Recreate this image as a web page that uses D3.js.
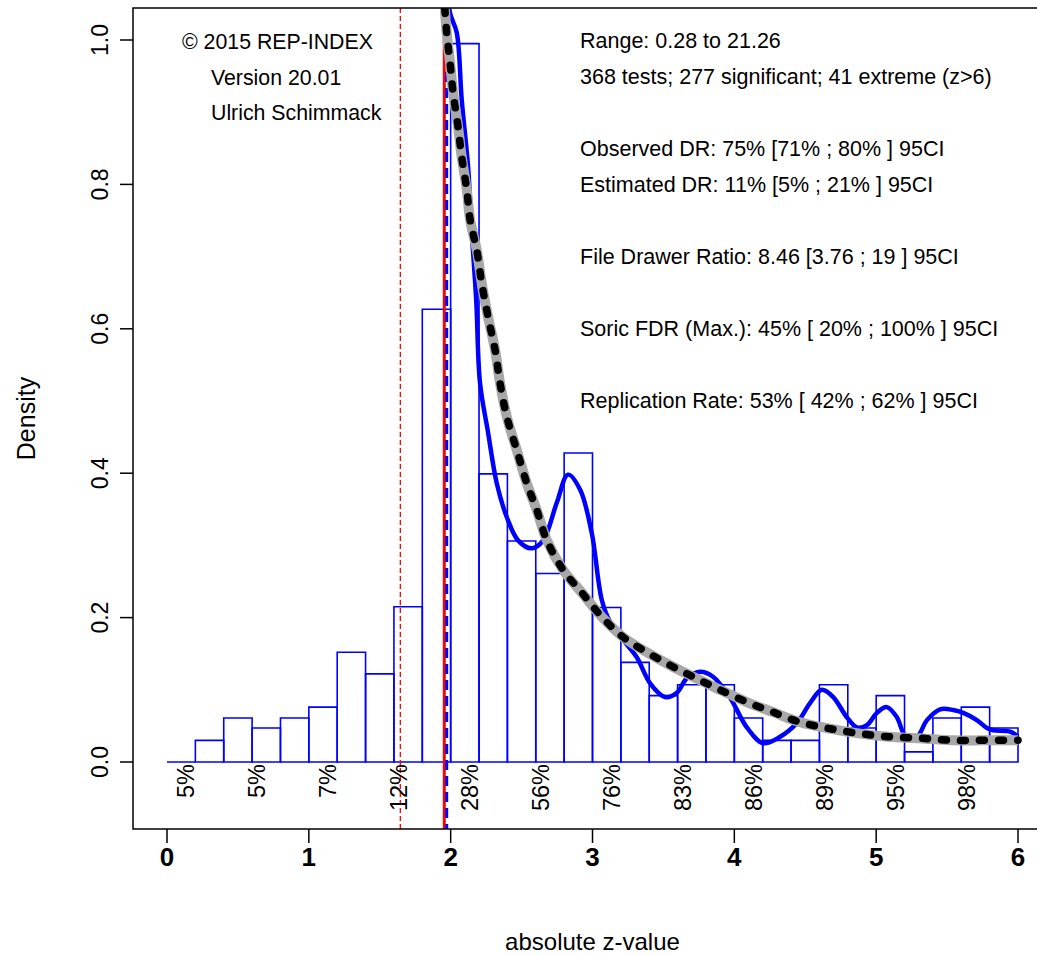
<!DOCTYPE html>
<html>
<head>
<meta charset="utf-8">
<script src="https://cdn.jsdelivr.net/npm/d3@7"></script>
<style>
  body { margin: 0; background: #fff; }
  svg { font-family: Arial, "Liberation Sans", sans-serif; }
</style>
</head>
<body>
<div id="chart"></div>
<script>
// Histogram (density scale, bin width 0.2)
const histBreaks = [0, 0.2, 0.4, 0.6, 0.8, 1.0, 1.2, 1.4, 1.6, 1.8, 2.0, 2.2, 2.4, 2.6, 2.8, 3.0,
                    3.2, 3.4, 3.6, 3.8, 4.0, 4.2, 4.4, 4.6, 4.8, 5.0, 5.2, 5.4, 5.6, 5.8, 6.0]
const histDensity = [0, 0.030, 0.061, 0.047, 0.061, 0.076, 0.152, 0.122, 0.215, 0.627,
                     0.995, 0.399, 0.306, 0.261, 0.428, 0.214, 0.138, 0.092, 0.107, 0.107,
                     0.061, 0.030, 0.030, 0.107, 0.047, 0.092, 0.014, 0.061, 0.076, 0.047]

// Kernel density of observed z (blue)
const kdeZ = [1.975, 1.996, 2.043, 2.078, 2.123, 2.149, 2.180, 2.207, 2.264, 2.325, 2.396, 2.475,
              2.572, 2.652, 2.748, 2.828, 2.913, 2.995, 3.066, 3.124, 3.216, 3.312, 3.406, 3.512,
              3.595, 3.665, 3.759, 3.850, 3.970, 4.088, 4.203, 4.323, 4.441, 4.535, 4.617, 4.697,
              4.793, 4.864, 4.934, 5.005, 5.075, 5.146, 5.205, 5.287, 5.358, 5.451, 5.543, 5.614,
              5.710, 5.781, 5.825, 5.945, 6.0]
const kdeDensity = [1.08, 1.037, 1.010, 0.917, 0.824, 0.733, 0.640, 0.525, 0.456, 0.386, 0.339, 0.307,
                    0.296, 0.307, 0.359, 0.398, 0.377, 0.317, 0.224, 0.194, 0.169, 0.145, 0.109, 0.090,
                    0.096, 0.116, 0.125, 0.118, 0.089, 0.048, 0.026, 0.035, 0.054, 0.082, 0.100, 0.090,
                    0.062, 0.048, 0.051, 0.068, 0.076, 0.062, 0.037, 0.035, 0.058, 0.073, 0.072, 0.068,
                    0.058, 0.047, 0.044, 0.042, 0.035]

// Fitted z-curve density (grey with black dashes)
const fitZ = [1.950, 1.972, 1.996, 2.017, 2.052, 2.078, 2.114, 2.137, 2.184, 2.219, 2.264, 2.313,
              2.348, 2.396, 2.466, 2.537, 2.607, 2.678, 2.793, 2.927, 3.066, 3.216, 3.383, 3.547,
              3.709, 3.877, 4.088, 4.274, 4.464, 4.652, 4.864, 5.085, 5.310, 5.534, 5.755, 6.0]
const fitDensity = [1.07, 1.010, 0.968, 0.927, 0.880, 0.838, 0.792, 0.751, 0.709, 0.663, 0.616, 0.571,
                    0.525, 0.478, 0.432, 0.386, 0.349, 0.307, 0.266, 0.234, 0.201, 0.173, 0.152, 0.134,
                    0.118, 0.102, 0.083, 0.069, 0.055, 0.047, 0.040, 0.035, 0.033, 0.030, 0.030, 0.030]

// Local power labels
const powerMids = [0.25, 0.75, 1.25, 1.75, 2.25, 2.75, 3.25, 3.75, 4.25, 4.75, 5.25, 5.75]
const powerLabels = ["5%", "5%", "7%", "12%", "28%", "56%", "76%", "83%", "86%", "89%", "95%", "98%"]

// Reference lines
const zOneTail = 1.645
const zCrit = 1.955
const zCritBlue = 1.972

const xTicks = [0, 1, 2, 3, 4, 5, 6]
const yTicks = [0, 0.2, 0.4, 0.6, 0.8, 1.0]

const creditLines = ["\u00a9 2015 REP-INDEX", "Version 20.01", "Ulrich Schimmack"]
const statLines = [
  "Range: 0.28 to 21.26",
  "368 tests; 277 significant; 41 extreme (z>6)",
  "Observed DR: 75% [71% ; 80% ] 95CI",
  "Estimated DR: 11% [5% ; 21% ] 95CI",
  "File Drawer Ratio: 8.46 [3.76 ; 19 ] 95CI",
  "Soric FDR (Max.): 45% [ 20% ; 100% ] 95CI",
  "Replication Rate: 53% [ 42% ; 62% ] 95CI"
]
const statRows = [0, 1, 3, 4, 6, 8, 10]

const W = 1037, H = 955
const BOX = { LEFT: 133, RIGHT: 1052, TOP: 8, BOTTOM: 829 }

const svg = d3.select("#chart").append("svg")
    .attr("width", W)
    .attr("height", H)

const x = d3.scaleLinear().domain([0, 6]).range([167, 1018])
const y = d3.scaleLinear().domain([0, 1]).range([762, 40])

svg.append("clipPath").attr("id", "plotclip")
  .append("rect")
    .attr("x", BOX.LEFT).attr("y", BOX.TOP)
    .attr("width", BOX.RIGHT - BOX.LEFT).attr("height", BOX.BOTTOM - BOX.TOP)

const plot = svg.append("g").attr("clip-path", "url(#plotclip)")

// Histogram bars (paths so that empty bins still show their base)
plot.selectAll("path.bar")
  .data(histDensity)
  .enter().append("path")
    .attr("class", "bar")
    .attr("d", (d, i) => {
      const x0 = x(histBreaks[i]), x1 = x(histBreaks[i + 1])
      return `M${x0},${y(0)}V${y(d)}H${x1}V${y(0)}Z`
    })
    .attr("fill", "none")
    .attr("stroke", "#0000ff")
    .attr("stroke-width", 1.6)

// Reference lines
plot.append("line")
    .attr("x1", x(zOneTail)).attr("x2", x(zOneTail))
    .attr("y1", BOX.TOP).attr("y2", BOX.BOTTOM)
    .attr("stroke", "#ff0000").attr("stroke-width", 1.3)
    .attr("stroke-dasharray", "5,3")

plot.append("line")
    .attr("x1", x(zCrit)).attr("x2", x(zCrit))
    .attr("y1", y(1.0)).attr("y2", BOX.BOTTOM)
    .attr("stroke", "#ff0000").attr("stroke-width", 3)

plot.append("line")
    .attr("x1", x(zCritBlue)).attr("x2", x(zCritBlue))
    .attr("y1", BOX.TOP).attr("y2", BOX.BOTTOM)
    .attr("stroke", "#0000ff").attr("stroke-width", 3)
    .attr("stroke-dasharray", "10,6")

// Curves
const line = d3.line()
    .x(d => x(d[0]))
    .y(d => y(d[1]))
    .curve(d3.curveCatmullRom)

const kde = kdeZ.map((z, i) => [z, kdeDensity[i]])
const fit = fitZ.map((z, i) => [z, fitDensity[i]])

plot.append("path")
    .datum(kde)
    .attr("d", line)
    .attr("fill", "none")
    .attr("stroke", "#0000ff")
    .attr("stroke-width", 4.5)

plot.append("path")
    .datum(fit)
    .attr("d", line)
    .attr("fill", "none")
    .attr("stroke", "#a8a8a8")
    .attr("stroke-width", 10)

plot.append("path")
    .datum(fit)
    .attr("d", line)
    .attr("fill", "none")
    .attr("stroke", "#000")
    .attr("stroke-width", 7.5)
    .attr("stroke-linecap", "round")
    .attr("stroke-dasharray", "5,14")

// Local power labels
svg.selectAll("text.power")
  .data(powerLabels)
  .enter().append("text")
    .attr("class", "power")
    .attr("transform", (d, i) => `translate(${x(powerMids[i]) - 8}, 764) rotate(-90)`)
    .attr("text-anchor", "end")
    .attr("font-size", "23.5px")
    .attr("fill", "#000")
    .text(d => d)

// Box
svg.append("rect")
    .attr("x", BOX.LEFT).attr("y", BOX.TOP)
    .attr("width", BOX.RIGHT - BOX.LEFT).attr("height", BOX.BOTTOM - BOX.TOP)
    .attr("fill", "none")
    .attr("stroke", "#000")
    .attr("stroke-width", 1.5)

// X axis
const xAxis = svg.append("g")
xAxis.selectAll("line")
  .data(xTicks)
  .enter().append("line")
    .attr("x1", d => x(d)).attr("x2", d => x(d))
    .attr("y1", BOX.BOTTOM).attr("y2", BOX.BOTTOM + 14)
    .attr("stroke", "#000").attr("stroke-width", 1.5)
xAxis.selectAll("text")
  .data(xTicks)
  .enter().append("text")
    .attr("x", d => x(d))
    .attr("y", 866)
    .attr("text-anchor", "middle")
    .attr("font-size", "26px")
    .attr("font-weight", "bold")
    .text(d => d)

// Y axis
const yAxis = svg.append("g")
yAxis.selectAll("line")
  .data(yTicks)
  .enter().append("line")
    .attr("x1", BOX.LEFT - 13).attr("x2", BOX.LEFT)
    .attr("y1", d => y(d)).attr("y2", d => y(d))
    .attr("stroke", "#000").attr("stroke-width", 1.5)
yAxis.selectAll("text")
  .data(yTicks)
  .enter().append("text")
    .attr("transform", d => `translate(108, ${y(d)}) rotate(-90)`)
    .attr("text-anchor", "middle")
    .attr("font-size", "23px")
    .text(d => d3.format(".1f")(d))

// Axis titles
svg.append("text")
    .attr("x", (BOX.LEFT + BOX.RIGHT) / 2)
    .attr("y", 950)
    .attr("text-anchor", "middle")
    .attr("font-size", "24px")
    .text("absolute z-value")

svg.append("text")
    .attr("transform", `translate(35, ${(BOX.TOP + BOX.BOTTOM) / 2}) rotate(-90)`)
    .attr("text-anchor", "middle")
    .attr("font-size", "25px")
    .text("Density")

// Annotations
svg.selectAll("text.credit")
  .data(creditLines)
  .enter().append("text")
    .attr("class", "credit")
    .attr("x", (d, i) => i === 0 ? 182 : 211)
    .attr("y", (d, i) => 49 + i * 35.5)
    .attr("font-size", "21.3px")
    .text(d => d)

svg.selectAll("text.stat")
  .data(statLines)
  .enter().append("text")
    .attr("class", "stat")
    .attr("x", 580)
    .attr("y", (d, i) => 48 + statRows[i] * 36)
    .attr("font-size", "21.5px")
    .text(d => d)
</script>
</body>
</html>
